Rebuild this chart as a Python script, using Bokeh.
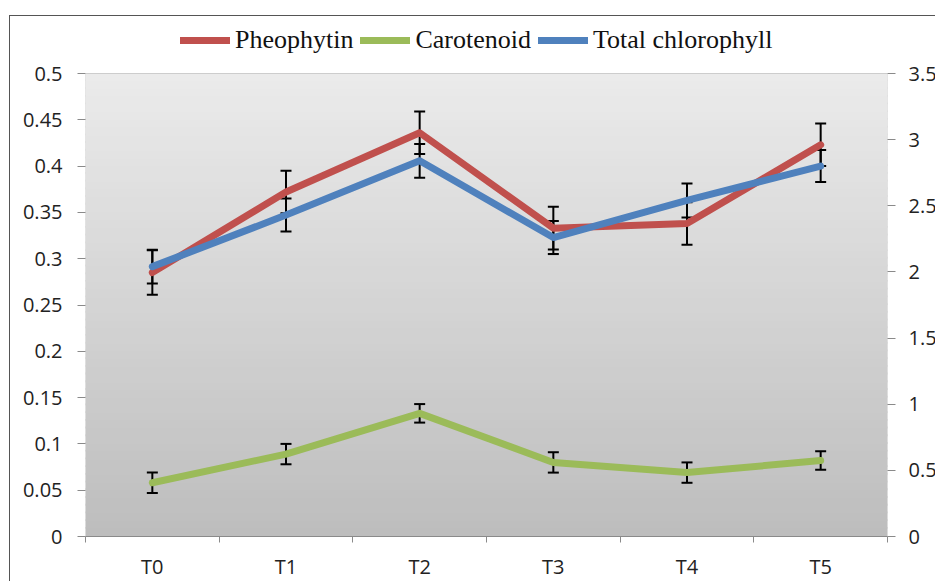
from bokeh.plotting import figure
from bokeh.models import (Range1d, LinearAxis, FixedTicker, Whisker, ColumnDataSource,
                          Legend, LegendItem, BoxAnnotation, TeeHead)
from bokeh.embed import file_html
from bokeh.resources import INLINE

categories = ["T0", "T1", "T2", "T3", "T4", "T5"]
pheophytin = [0.285, 0.372, 0.436, 0.333, 0.338, 0.423]
pheophytin_err = [0.024, 0.023, 0.023, 0.023, 0.023, 0.023]
carotenoid = [0.058, 0.089, 0.133, 0.080, 0.069, 0.082]
carotenoid_err = [0.011, 0.011, 0.010, 0.011, 0.011, 0.010]
total_chlorophyll = [2.04, 2.43, 2.84, 2.26, 2.54, 2.80]
total_chlorophyll_err = [0.128, 0.125, 0.128, 0.125, 0.128, 0.121]

left_ticks = [0, 0.05, 0.1, 0.15, 0.2, 0.25, 0.3, 0.35, 0.4, 0.45, 0.5]
left_tick_labels = ["0", "0.05", "0.1", "0.15", "0.2", "0.25", "0.3", "0.35", "0.4", "0.45", "0.5"]
right_ticks = [0, 0.5, 1, 1.5, 2, 2.5, 3, 3.5]
right_tick_labels = ["0", "0.5", "1", "1.5", "2", "2.5", "3", "3.5"]

n = len(categories)
xs = [i + 0.5 for i in range(n)]
bounds = [float(i) for i in range(n + 1)]

left_max = left_ticks[-1]
right_max = right_ticks[-1]

# layout (pixels)
plot_h = 463          # height of the grey plot area
frame_h = 515         # frame includes room for the legend above the plot area
top_scale = frame_h / plot_h

p = figure(frame_width=802, frame_height=frame_h, x_range=Range1d(0, n),
           y_range=Range1d(0, left_max * top_scale),
           output_backend="svg", toolbar_location=None, title=None,
           min_border_left=75, min_border_top=5, min_border_right=48, min_border_bottom=44)
p.margin = (15, 0, 0, 9)
p.styles = {"border-left": "1px solid #555555", "border-top": "1px solid #555555"}
p.extra_y_ranges = {"right": Range1d(0, right_max * top_scale)}
p.xgrid.visible = False
p.ygrid.visible = False
p.background_fill_color = "white"
p.border_fill_color = "white"
p.outline_line_color = None

# gradient background bands over the plot area
nb = 60
top_c = (235, 235, 235)
bot_c = (189, 189, 189)
for k in range(nb):
    f = (k + 0.5) / nb
    c = tuple(int(round(bot_c[j] + (top_c[j] - bot_c[j]) * f)) for j in range(3))
    p.add_layout(BoxAnnotation(bottom=left_max * k / nb,
                               top=min(left_max, left_max * (k + 1) / nb + 0.002),
                               fill_color="#%02x%02x%02x" % c, fill_alpha=1,
                               line_color=None, level="underlay"))
p.add_layout(BoxAnnotation(bottom=0, top=left_max, fill_alpha=0,
                           line_color="#707070", line_width=1, level="underlay"))

tick_font = "Open Sans"
tick_size = "20px"

xa = p.xaxis[0]
xa.ticker = FixedTicker(ticks=xs, minor_ticks=bounds)
xa.major_label_overrides = {x: c for x, c in zip(xs, categories)}
xa.major_tick_line_color = None
xa.minor_tick_line_color = "#8a8a8a"
xa.minor_tick_out = 6
xa.minor_tick_in = 0
xa.axis_line_color = "#8a8a8a"
xa.major_label_text_font = tick_font
xa.major_label_text_font_size = tick_size
xa.major_label_text_color = "#222222"
xa.major_label_standoff = 10

ya = p.yaxis[0]
ya.ticker = FixedTicker(ticks=left_ticks)
ya.major_label_overrides = {t: s for t, s in zip(left_ticks, left_tick_labels)}
ya.major_tick_out = 8
ya.major_tick_in = 0
ya.major_tick_line_color = "#8a8a8a"
ya.minor_tick_line_color = None
ya.axis_line_color = None
ya.major_label_text_font = tick_font
ya.major_label_text_font_size = tick_size
ya.major_label_text_color = "#222222"
ya.major_label_standoff = 15

ra = LinearAxis(y_range_name="right", ticker=FixedTicker(ticks=right_ticks))
ra.major_label_overrides = {t: s for t, s in zip(right_ticks, right_tick_labels)}
ra.major_tick_out = 8
ra.major_tick_in = 0
ra.major_tick_line_color = "#8a8a8a"
ra.minor_tick_line_color = None
ra.axis_line_color = None
ra.major_label_text_font = tick_font
ra.major_label_text_font_size = tick_size
ra.major_label_text_color = "#222222"
ra.major_label_standoff = 13
p.add_layout(ra, "right")

lw = 7
r_pheo = p.line(xs, pheophytin, line_color="#C0504D", line_width=lw,
                line_join="round", line_cap="round")
r_car = p.line(xs, carotenoid, line_color="#9BBB59", line_width=lw,
               line_join="round", line_cap="round")
r_tot = p.line(xs, total_chlorophyll, line_color="#4F81BD", line_width=lw,
               line_join="round", line_cap="round", y_range_name="right")


def add_err(vals, errs, rng=None):
    src = ColumnDataSource(dict(x=xs,
                                lo=[v - e for v, e in zip(vals, errs)],
                                hi=[v + e for v, e in zip(vals, errs)]))
    kw = {}
    if rng:
        kw["y_range_name"] = rng
    w = Whisker(source=src, base="x", lower="lo", upper="hi", dimension="height",
                line_color="black", line_width=2,
                upper_head=TeeHead(size=11, line_width=2, line_color="black"),
                lower_head=TeeHead(size=11, line_width=2, line_color="black"), **kw)
    p.add_layout(w)


add_err(pheophytin, pheophytin_err)
add_err(carotenoid, carotenoid_err)
add_err(total_chlorophyll, total_chlorophyll_err, "right")

legend = Legend(items=[LegendItem(label="Pheophytin", renderers=[r_pheo]),
                       LegendItem(label="Carotenoid", renderers=[r_car]),
                       LegendItem(label="Total chlorophyll", renderers=[r_tot])],
                orientation="horizontal", location=(95, 481),
                label_text_font="Liberation Serif", label_text_font_size="26px",
                label_text_color="#111111",
                glyph_width=50, glyph_height=22, label_standoff=5, spacing=7,
                padding=2, margin=0, border_line_color=None,
                background_fill_alpha=0)
p.add_layout(legend)

open("out.html", "w").write(file_html(p, INLINE))
